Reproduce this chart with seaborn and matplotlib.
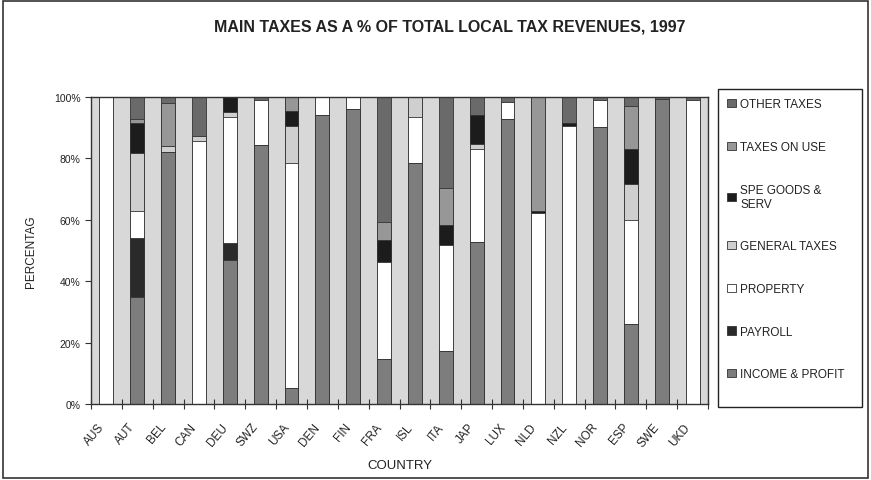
import matplotlib
matplotlib.use("Agg")
import matplotlib.pyplot as plt
import matplotlib.transforms as mtransforms
import seaborn as sns
import numpy as np
from matplotlib.patches import Patch, Rectangle

countries = ["AUS", "AUT", "BEL", "CAN", "DEU", "SWZ", "USA", "DEN", "FIN", "FRA",
             "ISL", "ITA", "JAP", "LUX", "NLD", "NZL", "NOR", "ESP", "SWE", "UKD"]

# shares in % (bottom to top of each bar)
income_profit = [0, 34.8, 82.0, 0, 46.8, 84.5, 5.2, 94.0, 96.2, 14.5,
                 78.6, 17.2, 52.9, 92.9, 0, 0, 90.1, 26.0, 99.5, 0]
payroll = [0, 19.4, 0, 0, 5.8, 0, 0, 0, 0, 0,
           0, 0, 0, 0, 0, 0, 0, 0, 0, 0]
property_tax = [100.0, 8.7, 0, 85.7, 40.9, 14.5, 73.4, 6.0, 3.8, 31.8,
                14.8, 34.6, 30.1, 5.5, 62.2, 90.7, 8.8, 34.0, 0, 99.0]
general_taxes = [0, 19.0, 2.0, 1.6, 1.5, 0, 12.1, 0, 0, 0,
                 6.6, 0, 1.6, 0, 0, 0, 0, 11.5, 0, 0]
spe_goods = [0, 9.5, 0, 0, 5.0, 0, 4.9, 0, 0, 7.1,
             0, 6.5, 9.4, 0, 0.8, 0.7, 0, 11.5, 0, 0]
taxes_on_use = [0, 1.4, 14.0, 0, 0, 0, 4.4, 0, 0, 6.0,
                0, 12.1, 0, 0, 37.0, 0, 0, 14.2, 0, 0]
other_taxes = [0, 7.2, 2.0, 12.7, 0, 1.0, 0, 0, 0, 40.6,
               0, 29.6, 6.0, 1.6, 0, 8.6, 1.1, 2.8, 0.5, 1.0]

series = [
    ("INCOME & PROFIT", income_profit, "#7d7d7d"),
    ("PAYROLL", payroll, "#2a2a2a"),
    ("PROPERTY", property_tax, "#ffffff"),
    ("GENERAL TAXES", general_taxes, "#cfcfcf"),
    ("SPE GOODS &\nSERV", spe_goods, "#1c1c1c"),
    ("TAXES ON USE", taxes_on_use, "#979797"),
    ("OTHER TAXES", other_taxes, "#6a6a6a"),
]

sns.set_style("white")
plt.rcParams["font.family"] = ["Liberation Sans", "DejaVu Sans"]
txt = "#222222"

fig = plt.figure(figsize=(8.71, 4.81), dpi=100)
ax = fig.add_axes([91 / 871, 1 - 405 / 481, 617 / 871, 307 / 481])
ax.set_facecolor("#d8d8d8")

# stacked bars: draw cumulative totals from the top layer down
cum = np.cumsum([s[1] for s in series], axis=0)
for i in range(len(series) - 1, -1, -1):
    sns.barplot(x=countries, y=cum[i], color=series[i][2], saturation=1,
                width=0.45, edgecolor="#333333", linewidth=0.6, ax=ax)

ax.set_xlim(-0.5, len(countries) - 0.5)
ax.set_ylim(0, 100)
ax.set_yticks(range(0, 101, 20))
ax.set_yticklabels([f"{v}%" for v in range(0, 101, 20)], fontsize=7.5, color=txt)
ax.tick_params(axis="y", direction="out", length=4, width=0.8, color="#333333", left=True)

ax.set_xticks(range(len(countries)))
ax.set_xticklabels(countries, rotation=50, ha="right", rotation_mode="anchor",
                   fontsize=8.5, color=txt)
ax.tick_params(axis="x", which="major", length=0, pad=12)
shift = mtransforms.ScaledTranslation(-9 / 100, 0, fig.dpi_scale_trans)
for lbl in ax.get_xticklabels():
    lbl.set_transform(lbl.get_transform() + shift)
ax.set_xticks(np.arange(-0.5, len(countries), 1), minor=True)
ax.tick_params(axis="x", which="minor", direction="inout", length=7, width=0.8,
               color="#333333", bottom=True)

for sp in ax.spines.values():
    sp.set_color("#333333")
    sp.set_linewidth(1.0)

ax.set_xlabel("COUNTRY", fontsize=9.5, color=txt, labelpad=7)
ax.set_ylabel("PERCENTAG", fontsize=8.5, color=txt, labelpad=12)

fig.text(450 / 871, 1 - 27 / 481, "MAIN TAXES AS A % OF TOTAL LOCAL TAX REVENUES, 1997",
         ha="center", va="center", fontsize=11.5, fontweight="bold", color=txt)

handles = [Patch(facecolor=c, edgecolor="#333333", linewidth=0.6, label=n)
           for n, v, c in reversed(series)]
leg = fig.legend(handles=handles, loc="upper left",
                 bbox_to_anchor=(718 / 871, 1 - 90 / 481),
                 fontsize=8.5, frameon=False,
                 handlelength=0.7, handleheight=0.7, handletextpad=0.4,
                 labelspacing=2.6, borderpad=0.8, borderaxespad=0)
for t in leg.get_texts():
    t.set_color(txt)
# legend box
fig.add_artist(Rectangle((718 / 871, 1 - 408 / 481), 144 / 871, 318 / 481,
                         transform=fig.transFigure, fill=False,
                         edgecolor="#222222", linewidth=1.0))

fig.add_artist(Rectangle((0.003, 0.004), 0.994, 0.992, transform=fig.transFigure,
                         fill=False, edgecolor="#333333", linewidth=1.2))

fig.savefig("out.png", dpi=100)
